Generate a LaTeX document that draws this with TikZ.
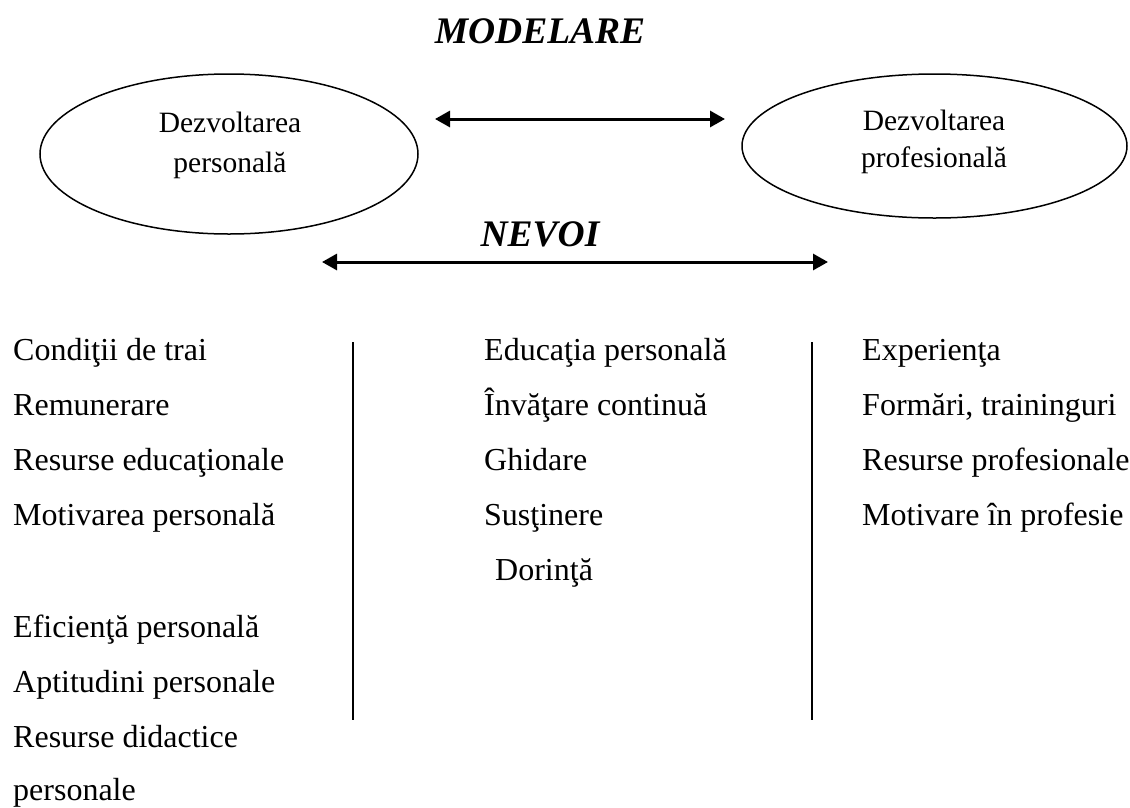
\documentclass[tikz,border=0pt]{standalone}
\usepackage{fontspec}
\setmainfont{Liberation Serif}
\usetikzlibrary{shapes.geometric,arrows.meta}
\begin{document}
\begin{tikzpicture}[x=1pt,y=-1pt,
  bodytxt/.style={anchor=base west,inner sep=0pt,font=\fontsize{32}{38}\selectfont},
  elltxt/.style={anchor=base,inner sep=0pt,font=\fontsize{29.5}{35}\selectfont},
  headtxt/.style={anchor=base,inner sep=0pt,font=\fontsize{37.5}{44}\selectfont\bfseries\itshape},
  ellbox/.style={draw,ellipse,line width=1.5pt,inner sep=0pt},
  dblarrow/.style={line width=3pt,{Triangle[length=15pt,width=16pt]}-{Triangle[length=15pt,width=16pt]}},
  sepline/.style={line width=1.6pt}]
\useasboundingbox (0,0) rectangle (1130,807);

\node[headtxt] (modelare) at (540,43) {MODELARE};
\node[headtxt] (nevoi) at (540,246) {NEVOI};

\node[ellbox,minimum width=378pt,minimum height=160pt] (e1) at (229,154) {};
\node[ellbox,minimum width=385pt,minimum height=144pt] (e2) at (934.5,146) {};

\node[elltxt] (e1a) at (230,132) {Dezvoltarea};
\node[elltxt] (e1b) at (230,172) {personală};
\node[elltxt] (e2a) at (934,130) {Dezvoltarea};
\node[elltxt] (e2b) at (934,167) {profesională};

\coordinate (a1l) at (435,119);
\coordinate (a1r) at (725,119);
\draw[dblarrow] (a1l) -- (a1r);
\coordinate (a2l) at (322,262);
\coordinate (a2r) at (828,262);
\draw[dblarrow] (a2l) -- (a2r);

\coordinate (v1t) at (353,342);
\coordinate (v1b) at (353,720);
\coordinate (v2t) at (812,342);
\coordinate (v2b) at (812,720);
\draw[sepline] (v1t) -- (v1b);
\draw[sepline] (v2t) -- (v2b);

\node[bodytxt] (l1) at (13,360) {Condiţii de trai};
\node[bodytxt] (l2) at (13,415) {Remunerare};
\node[bodytxt] (l3) at (13,470) {Resurse educaţionale};
\node[bodytxt] (l4) at (13,525) {Motivarea personală};
\node[bodytxt] (l5) at (13,637) {Eficienţă personală};
\node[bodytxt] (l6) at (13,692) {Aptitudini personale};
\node[bodytxt] (l7) at (13,747) {Resurse didactice};
\node[bodytxt] (l8) at (13,800) {personale};

\node[bodytxt] (m1) at (484,360) {Educaţia personală};
\node[bodytxt] (m2) at (484,415) {Învăţare continuă};
\node[bodytxt] (m3) at (484,470) {Ghidare};
\node[bodytxt] (m4) at (484,525) {Susţinere};
\node[bodytxt] (m5) at (495,580) {Dorinţă};

\node[bodytxt] (r1) at (862,360) {Experienţa};
\node[bodytxt] (r2) at (862,415) {Formări, traininguri};
\node[bodytxt] (r3) at (862,470) {Resurse profesionale};
\node[bodytxt] (r4) at (862,525) {Motivare în profesie};
\end{tikzpicture}
\end{document}
